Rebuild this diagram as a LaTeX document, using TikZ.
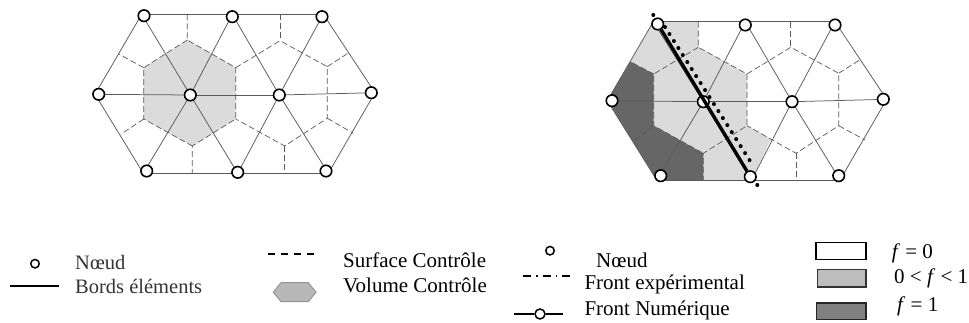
\documentclass[tikz,border=0pt]{standalone}
\usepackage{fontspec}
\setmainfont{Liberation Serif}
\tikzset{
  nd/.style={circle,draw=black,fill=white,line width=1.6pt,inner sep=0pt,minimum size=11.5pt},
  ndsmall/.style={circle,draw=black,fill=white,line width=1.5pt,inner sep=0pt,minimum size=8.5pt},
  edge/.style={draw=black!65,line width=0.75pt},
  cvdash/.style={draw=black!65,line width=0.7pt,dash pattern=on 6pt off 3pt},
  lab/.style={anchor=west,inner sep=0pt,text=black,font=\fontsize{21}{24}\selectfont},
  labgray/.style={lab,text=black!80,font=\fontsize{20.5}{24}\selectfont},
  key/.style={line width=1.6pt},
}
\newcommand{\meshedges}[1]{%
  \foreach \p/\q in {t1/t2,t2/t3,m1/m2,m2/m3,m3/m4,b1/b2,b2/b3,t1/m1,t1/m2,t2/m2,t2/m3,t3/m3,t3/m4,m1/b1,m2/b1,m2/b2,m3/b2,m3/b3,m4/b3}
    \draw[edge] (#1\p) -- (#1\q);%
}
\begin{document}
\begin{tikzpicture}[x=1pt,y=-1pt]
\useasboundingbox (0,0) rectangle (969,323);
% left mesh
\fill[black!14] (187.3,40) -- (235.7,67.7) -- (235.7,119) -- (192.3,146) -- (143.7,119) -- (143.7,67.7) -- cycle;
\foreach \n/\x/\y in {t1/141.7/14.3,t2/232.3/14.3,t3/323.3/14.3,m1/95/94.3,m2/190.3/95,m3/279.3/95,m4/375/92.7,b1/143.3/173.3,b2/237.7/173.3,b3/328.3/173.3}
  \coordinate (L\n) at (\x,\y);
\meshedges{L}
\draw[cvdash] (187.3,14.3) -- (187.3,40) -- (235.7,67.7) -- (235.7,119) -- (192.3,146) -- (192.3,173.3);
\draw[cvdash] (187.3,40) -- (143.7,67.7) -- (143.7,119) -- (192.3,146);
\draw[cvdash] (143.7,67.7) -- (119.3,54.3);
\draw[cvdash] (143.7,119) -- (120.7,134.3);
\draw[cvdash] (235.7,67.7) -- (280,40.7) -- (327.3,66.7) -- (327.3,118.3) -- (284.7,146) -- (235.7,119);
\draw[cvdash] (280,14.3) -- (280,40.7);
\draw[cvdash] (284.7,146) -- (284.7,173.3);
\draw[cvdash] (327.3,66.7) -- (349.3,52.3);
\draw[cvdash] (327.3,118.3) -- (353.3,133.3);
\foreach \n/\x/\y in {t1/144/15.7,t2/232.3/16.7,t3/322/16.7,m1/98.7/94.3,m2/190.3/95,m3/279.3/95,m4/371.3/92.7,b1/146.7/171,b2/237.7/172.3,b3/326/171}
  \node[nd] (Ln\n) at (\x,\y) {};
% right mesh
\foreach \n/\x/\y in {t1/653.3/21.7,t2/745.3/21.7,t3/835/21.7,m1/607.3/100.7,m2/703.3/101.7,m3/792/101.7,m4/886.7/99.3,b1/656.7/180,b2/751.7/180,b3/840/180}
  \coordinate (R\n) at (\x,\y);
\fill[black!14] (Rt1) -- (698.3,21.7) -- (698.3,47.3) -- (747,74) -- (747,125.7) -- (771,139) -- (Rb2) -- (703.3,180) -- (703.3,153.3) -- (653.7,125.7) -- (653.7,74) -- (630.3,61.7) -- cycle;
\fill[black!60] (630.3,61.7) -- (653.7,74) -- (653.7,125.7) -- (703.3,153.3) -- (703.3,180) -- (Rb1) -- (Rm1) -- cycle;
\meshedges{R}
\draw[cvdash] (698.3,21.7) -- (698.3,47.3) -- (747,74) -- (747,125.7) -- (703.3,153.3) -- (703.3,180);
\draw[cvdash] (698.3,47.3) -- (653.7,74) -- (653.7,125.7) -- (703.3,153.3);
\draw[cvdash] (653.7,74) -- (630.3,61.7);
\draw[cvdash] (653.7,125.7) -- (632.5,141.7);
\draw[cvdash] (747,74) -- (790.7,47.3) -- (838.7,73.3) -- (838.7,125.7) -- (796,153.3) -- (747,125.7);
\draw[cvdash] (790.7,21.7) -- (790.7,47.3);
\draw[cvdash] (796,153.3) -- (796,180);
\draw[cvdash] (838.7,73.3) -- (860.7,59.3);
\draw[cvdash] (838.7,125.7) -- (865,140);
\foreach \n/\x/\y in {t1/657.7/24,t2/745.3/25,t3/835/25,m1/612/100.7,m2/703.3/101.7,m3/792/101.7,m4/883.3/99.3,b1/660.7/175.7,b2/750.3/176.7,b3/838.7/175.7}
  \node[nd] (Rn\n) at (\x,\y) {};
\draw[line width=3.4pt,black] (Rnt1) -- (Rnb2);
\coordinate (dotA) at (653.3,15);
\coordinate (dotP) at (665,27);
\coordinate (dotQ) at (752,164);
\coordinate (dotB) at (757.3,185);
\draw[line width=4pt,line cap=round,dash pattern=on 0pt off 8.3pt,black] (dotP) -- (dotQ);
\draw[line width=4pt,line cap=round,dash pattern=on 0pt off 40pt,black] (dotA) -- (dotP);
\draw[line width=4pt,line cap=round,dash pattern=on 0pt off 40pt,black] (dotB) -- (dotQ);
% legend 1
\node[ndsmall] (k1) at (35,263.7) {};
\node[labgray] (k1t) at (75,262) {Nœud};
\coordinate (k2a) at (10,286); \coordinate (k2b) at (59.3,286);
\draw[key] (k2a) -- (k2b);
\node[labgray] (k2t) at (75,286.5) {Bords éléments};
\coordinate (k3a) at (268.3,254); \coordinate (k3b) at (318.3,254);
\draw[key,dash pattern=on 7pt off 6pt] (k3a) -- (k3b);
\node[lab] (k3t) at (343,260) {Surface Contrôle};
\draw[fill=black!28,draw=black!42,line width=1pt] (273.3,292.2) -- (281,282.7) -- (308.3,282.7) -- (316,292.2) -- (308.3,301.7) -- (281,301.7) -- cycle;
\node[lab] (k4t) at (343,285) {Volume Contrôle};
% legend 2
\node[ndsmall] (k5) at (550,250.7) {};
\node[lab] (k5t) at (596,260) {Nœud};
\coordinate (k6a) at (523.3,276); \coordinate (k6b) at (573.3,276);
\draw[key,dash pattern=on 8pt off 5pt on 1.5pt off 5pt] (k6a) -- (k6b);
\node[lab] (k6t) at (584.3,284) {Front expérimental};
\node[ndsmall,minimum size=10pt] (k7) at (540,314) {};
\coordinate (k7a) at (514,314); \coordinate (k7b) at (562.7,314);
\draw[key] (k7a) -- (k7); \draw[key] (k7) -- (k7b);
\node[lab] (k7t) at (584.3,310) {Front Numérique};
% legend 3
\node[draw=black,line width=1.6pt,fill=white,minimum width=50pt,minimum height=17pt,inner sep=0pt] (b0) at (841,250.8) {};
\node[draw=black!80,line width=1.6pt,fill=black!26,minimum width=48.5pt,minimum height=17.4pt,inner sep=0pt] (b1) at (841.8,278) {};
\node[draw=black!85,line width=1.6pt,fill=black!50,minimum width=49.5pt,minimum height=16.6pt,inner sep=0pt] (b2) at (841.3,311) {};
\node[lab] (b0t) at (891.7,253) {\textit{f} = 0};
\node[lab] (b1t) at (894,278) {0 < \textit{f} < 1};
\node[lab] (b2t) at (897,306) {\textit{f} = 1};
\end{tikzpicture}
\end{document}
